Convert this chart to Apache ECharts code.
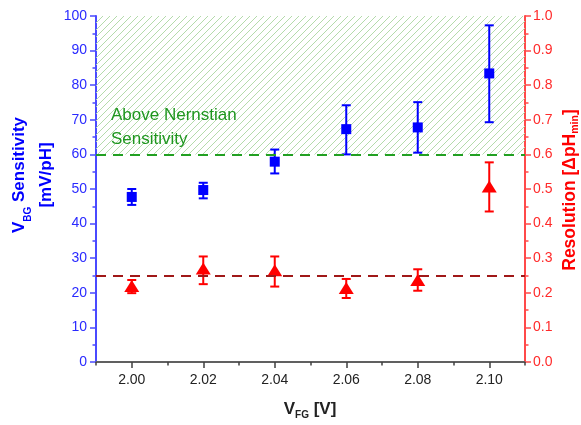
<!DOCTYPE html>
<html>
<head>
<meta charset="utf-8">
<script src="https://cdn.jsdelivr.net/npm/echarts@6/dist/echarts.min.js"></script>
<style>
html,body{margin:0;padding:0;background:#fff;}
#main{width:581px;height:425px;}
</style>
</head>
<body>
<div id="main"></div>
<script>
// ---- data ----
const xValues = [2.00, 2.02, 2.04, 2.06, 2.08, 2.10];
const sensitivity = [47.7, 49.7, 57.9, 67.3, 67.8, 83.4];
const sensLow = [45.4, 47.3, 54.5, 60.0, 60.5, 69.3];
const sensHigh = [50.0, 51.8, 61.4, 74.2, 75.1, 97.3];
const resolution = [0.22, 0.27, 0.265, 0.214, 0.237, 0.507];
const resLow = [0.199, 0.225, 0.218, 0.185, 0.206, 0.435];
const resHigh = [0.237, 0.305, 0.305, 0.240, 0.268, 0.577];
const xTickLabels = [2.00, 2.02, 2.04, 2.06, 2.08, 2.10];
const xMinorTicks = [1.99, 2.01, 2.03, 2.05, 2.07, 2.09, 2.11];
const nernstLimit = 60;
const resolutionRef = 25;

const FONT = 'Liberation Sans, Arial, sans-serif';
const BLUE = '#0000ff';
const RED = '#ff0000';

// hatch pattern
const pat = document.createElement('canvas');
pat.width = 7; pat.height = 7;
const pc = pat.getContext('2d');
pc.strokeStyle = '#b4dbab';
pc.lineWidth = 1;
pc.beginPath();
pc.moveTo(0, 7); pc.lineTo(7, 0);
pc.moveTo(-1, 1); pc.lineTo(1, -1);
pc.moveTo(6, 8); pc.lineTo(8, 6);
pc.stroke();

function errRender(color) {
  return function (params, api) {
    const x = api.value(0);
    const lo = api.coord([x, api.value(1)]);
    const hi = api.coord([x, api.value(2)]);
    const w = 4.5;
    const st = { stroke: color, lineWidth: 2 };
    return {
      type: 'group',
      children: [
        { type: 'line', shape: { x1: lo[0], y1: lo[1], x2: hi[0], y2: hi[1] }, style: st },
        { type: 'line', shape: { x1: lo[0] - w, y1: lo[1], x2: lo[0] + w, y2: lo[1] }, style: st },
        { type: 'line', shape: { x1: hi[0] - w, y1: hi[1], x2: hi[0] + w, y2: hi[1] }, style: st }
      ]
    };
  };
}

const chart = echarts.init(document.getElementById('main'), null, { renderer: 'canvas' });
chart.setOption({
  animation: false,
  backgroundColor: '#ffffff',
  grid: { left: 96, right: 56, top: 16, bottom: 63, containLabel: false, outerBoundsMode: 'none' },
  xAxis: [{
    type: 'value', min: 1.99, max: 2.11,
    axisLine: { show: true, lineStyle: { color: '#606060', width: 2 } },
    axisTick: { show: true, inside: false, length: 6, customValues: xTickLabels, lineStyle: { color: '#404040', width: 1.5 } },
    axisLabel: { customValues: xTickLabels, formatter: v => v.toFixed(2), color: '#222', fontSize: 14, fontFamily: FONT, margin: 11 },
    splitLine: { show: false }
  }, {
    type: 'value', min: 1.99, max: 2.11, position: 'bottom',
    axisLine: { show: false },
    axisTick: { show: true, inside: false, length: 3.5, customValues: xMinorTicks, lineStyle: { color: '#404040', width: 1.5 } },
    axisLabel: { show: false },
    splitLine: { show: false }
  }],
  yAxis: [{
    type: 'value', min: 0, max: 100, interval: 10, position: 'left',
    axisLine: { show: true, lineStyle: { color: '#4a4aff', width: 2 } },
    axisTick: { show: true, inside: false, length: 6, lineStyle: { color: '#4a4aff', width: 1.5 } },
    minorTick: { show: true, splitNumber: 2, length: 3.5, lineStyle: { color: '#4a4aff', width: 1.5 } },
    axisLabel: { color: '#2a2aff', fontSize: 14, fontFamily: FONT, margin: 9 },
    splitLine: { show: false }
  }, {
    type: 'value', min: 0, max: 1, interval: 0.1, position: 'right',
    axisLine: { show: true, lineStyle: { color: '#ff4a4a', width: 2 } },
    axisTick: { show: true, inside: false, length: 6, lineStyle: { color: '#ff4a4a', width: 1.5 } },
    minorTick: { show: true, splitNumber: 2, length: 3.5, lineStyle: { color: '#ff4a4a', width: 1.5 } },
    axisLabel: { color: '#ff2a2a', fontSize: 14, fontFamily: FONT, margin: 8, formatter: v => v.toFixed(1) },
    splitLine: { show: false }
  }],
  series: [
    {
      type: 'custom', name: 'sensErr', xAxisIndex: 0, yAxisIndex: 0, z: 3,
      renderItem: errRender(BLUE),
      data: xValues.map((x, i) => [x, sensLow[i], sensHigh[i]]),
      encode: { x: 0, y: [1, 2] },
      markArea: {
        silent: true,
        itemStyle: { color: { image: pat, repeat: 'repeat' } },
        data: [[{ yAxis: nernstLimit }, { yAxis: 100 }]]
      }
    },
    {
      type: 'custom', name: 'resErr', xAxisIndex: 0, yAxisIndex: 1, z: 3,
      renderItem: errRender(RED),
      data: xValues.map((x, i) => [x, resLow[i], resHigh[i]]),
      encode: { x: 0, y: [1, 2] }
    },
    {
      type: 'scatter', name: 'Sensitivity', xAxisIndex: 0, yAxisIndex: 0, z: 4,
      symbol: 'rect', symbolSize: 10,
      itemStyle: { color: BLUE, opacity: 1 },
      data: xValues.map((x, i) => [x, sensitivity[i]]),
      markLine: {
        silent: true, symbol: ['none', 'none'], label: { show: false },
        data: [
          { yAxis: nernstLimit, lineStyle: { color: '#22a022', type: [10, 7], width: 2 } },
          { yAxis: resolutionRef, lineStyle: { color: '#a01818', type: [10, 7], width: 2 } }
        ]
      }
    },
    {
      type: 'scatter', name: 'Resolution', xAxisIndex: 0, yAxisIndex: 1, z: 4,
      symbol: 'triangle', symbolSize: [15, 12],
      itemStyle: { color: RED, opacity: 1 },
      data: xValues.map((x, i) => [x, resolution[i]])
    }
  ],
  graphic: [
    {
      type: 'text', left: 111, top: 103, z: 10,
      style: {
        text: 'Above Nernstian\nSensitivity', fill: '#1e961e',
        font: '17px ' + FONT, lineHeight: 24
      }
    },
    {
      type: 'text', x: 33, y: 175, rotation: Math.PI / 2, z: 10,
      style: {
        text: '{b|V}{s|BG}{b| Sensitivity}\n{b|[mV/pH]}',
        align: 'center', verticalAlign: 'middle', fill: BLUE,
        rich: {
          b: { fontSize: 17, fontWeight: 'bold', fontFamily: FONT, fill: BLUE, lineHeight: 27 },
          s: { fontSize: 10, fontWeight: 'bold', fontFamily: FONT, fill: BLUE, lineHeight: 27, verticalAlign: 'bottom' }
        }
      }
    },
    {
      type: 'text', x: 570, y: 190, rotation: Math.PI / 2, z: 10,
      style: {
        text: '{b|Resolution [ΔpH}{s|min}{b|]}',
        align: 'center', verticalAlign: 'middle', fill: RED,
        rich: {
          b: { fontSize: 17.5, fontWeight: 'bold', fontFamily: FONT, fill: RED, lineHeight: 22 },
          s: { fontSize: 10.5, fontWeight: 'bold', fontFamily: FONT, fill: RED, lineHeight: 22, verticalAlign: 'bottom' }
        }
      }
    },
    {
      type: 'text', x: 310, y: 409, z: 10,
      style: {
        text: '{b|V}{s|FG}{b| [V]}',
        align: 'center', verticalAlign: 'middle', fill: '#222',
        rich: {
          b: { fontSize: 17, fontWeight: 'bold', fontFamily: FONT, fill: '#222', lineHeight: 22 },
          s: { fontSize: 10, fontWeight: 'bold', fontFamily: FONT, fill: '#222', lineHeight: 22, verticalAlign: 'bottom' }
        }
      }
    }
  ]
});
</script>
</body>
</html>
